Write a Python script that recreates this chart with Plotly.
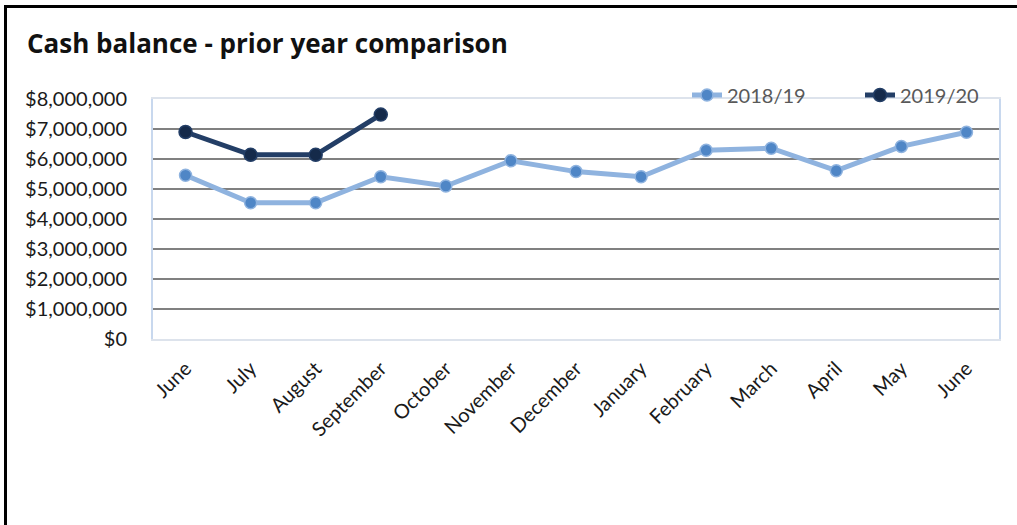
import plotly.graph_objects as go

# Month labels for the financial year (June to June)
months = ["June", "July", "August", "September", "October", "November",
          "December", "January", "February", "March", "April", "May", "June"]

# Month-end cash balances
balance_2018_19 = [5460000, 4540000, 4540000, 5410000, 5100000, 5940000,
                   5580000, 5410000, 6290000, 6360000, 5610000, 6420000, 6890000]
balance_2019_20 = [6900000, 6140000, 6140000, 7480000]

y_ticks = [0, 1000000, 2000000, 3000000, 4000000, 5000000, 6000000, 7000000, 8000000]
y_tick_text = ["$0", "$1,000,000", "$2,000,000", "$3,000,000", "$4,000,000",
               "$5,000,000", "$6,000,000", "$7,000,000", "$8,000,000"]

FONT = "Lato, Calibri, Carlito, sans-serif"
TITLE_FONT = "'Open Sans', Calibri, sans-serif"
W, H = 1017, 525
L, R, T, B = 153, 18, 99, 186
plot_w, plot_h = W - L - R, H - T - B


def px_x(px):
    return (px - L) / plot_w


def px_y(py):
    return (H - B - py) / plot_h


fig = go.Figure()

fig.add_trace(go.Scatter(
    x=list(range(len(balance_2018_19))), y=balance_2018_19,
    name="2018/19", mode="lines+markers", legend="legend",
    line=dict(color="#8fb3df", width=5),
    marker=dict(color="#4f86c6", size=12, line=dict(color="#8fb3df", width=1.5)),
))
fig.add_trace(go.Scatter(
    x=list(range(len(balance_2019_20))), y=balance_2019_20,
    name="2019/20", mode="lines+markers", legend="legend2",
    line=dict(color="#233e66", width=5),
    marker=dict(color="#152a4a", size=13, line=dict(color="#233e66", width=1.5)),
))

legend_style = dict(orientation="h", xanchor="left", yanchor="middle",
                    y=px_y(95), bgcolor="rgba(0,0,0,0)",
                    font=dict(size=20, color="#595959", family=FONT))

fig.update_layout(
    width=W, height=H,
    margin=dict(l=L, r=R, t=T, b=B, autoexpand=False),
    paper_bgcolor="white", plot_bgcolor="white",
    font=dict(family=FONT, color="#262626"),
    title=dict(text="<b>Cash balance - prior year comparison</b>",
               x=27 / W, xanchor="left", xref="container",
               y=1 - 44 / H, yanchor="middle",
               font=dict(size=26, color="#111111", family=TITLE_FONT)),
    legend=dict(x=px_x(687), **legend_style),
    legend2=dict(x=px_x(860), **legend_style),
    showlegend=True,
)

fig.update_xaxes(
    range=[-0.5, len(months) - 0.5],
    tickmode="array", tickvals=list(range(len(months))), ticktext=months,
    tickangle=-45, tickfont=dict(size=20, color="#1a1a1a"),
    showgrid=False, zeroline=False,
    showline=True, mirror=True, linecolor="#dde3ec", linewidth=2,
    ticks="", ticklabelstandoff=8,
)
fig.update_yaxes(
    range=[0, 8000000],
    tickmode="array", tickvals=y_ticks, ticktext=y_tick_text,
    tickfont=dict(size=20, color="#1a1a1a"),
    showgrid=True, gridcolor="#808080", gridwidth=2,
    zeroline=False,
    showline=True, mirror=True, linecolor="#c8d8ee", linewidth=2,
    ticks="", ticklabelstandoff=20,
)

# Outer black frame (left and top edges)
fig.add_shape(type="line", xref="paper", yref="paper",
              x0=px_x(5.5), x1=px_x(1020), y0=px_y(6.5), y1=px_y(6.5),
              line=dict(color="black", width=3))
fig.add_shape(type="line", xref="paper", yref="paper",
              x0=px_x(5.5), x1=px_x(5.5), y0=px_y(5), y1=px_y(530),
              line=dict(color="black", width=3))

fig.write_html("out.html")
